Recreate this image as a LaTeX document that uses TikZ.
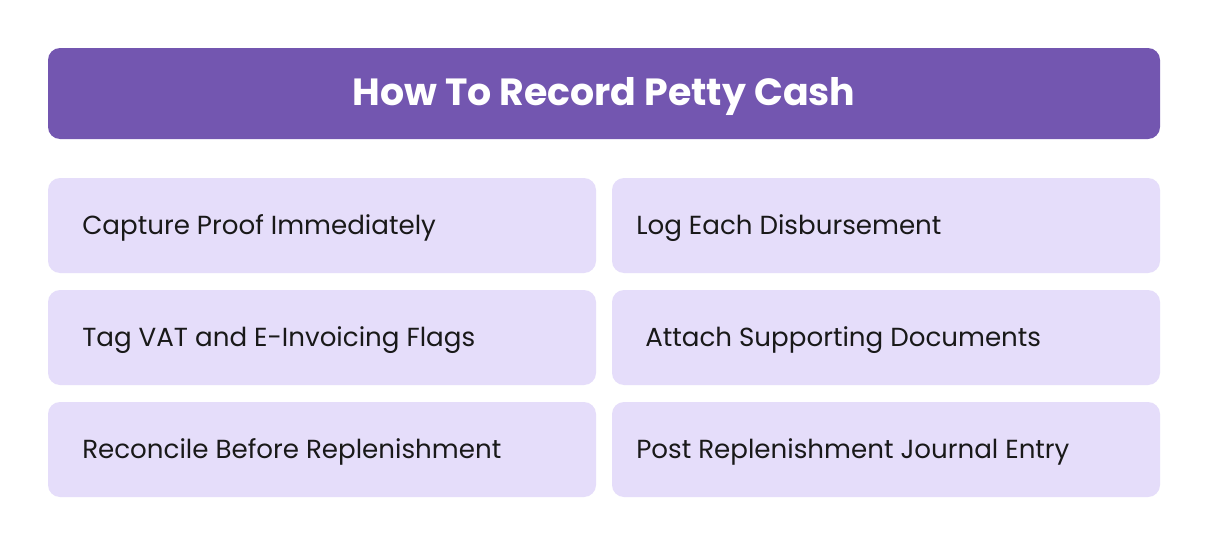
\documentclass[tikz,border=0pt]{standalone}
\usepackage{fontspec}
\setmainfont{Poppins}
\definecolor{titlebg}{HTML}{7356B0}
\definecolor{cardbg}{HTML}{E5DDFA}
\tikzset{
  card/.style={fill=cardbg, draw=none, rounded corners=9pt},
  cardtext/.style={anchor=west, inner sep=0pt, font=\fontsize{19.6}{22}\selectfont\color{black!90}},
}
\begin{document}
\begin{tikzpicture}[x=0.75pt,y=-0.75pt]
\useasboundingbox[fill=white] (0,0) rectangle (1208,546);
\fill[titlebg, rounded corners=9pt] (48,48) rectangle (1160,139);
\node[inner sep=0pt, text=white, font=\fontsize{28.4}{31}\selectfont\bfseries] (title) at (604,97) {How To Record Petty Cash};
\fill[card] (48,178) rectangle (596,273);
\fill[card] (612,178) rectangle (1160,273);
\fill[card] (48,290) rectangle (596,385);
\fill[card] (612,290) rectangle (1160,385);
\fill[card] (48,402) rectangle (596,497);
\fill[card] (612,402) rectangle (1160,497);
\node[cardtext] (a) at (82,228) {Capture Proof Immediately};
\node[cardtext] (b) at (636,228) {Log Each Disbursement};
\node[cardtext] (c) at (82,340) {Tag VAT and E-Invoicing Flags};
\node[cardtext] (d) at (645,340) {Attach Supporting Documents};
\node[cardtext] (e) at (82,452) {Reconcile Before Replenishment};
\node[cardtext] (f) at (636,452) {Post Replenishment Journal Entry};
\end{tikzpicture}
\end{document}
